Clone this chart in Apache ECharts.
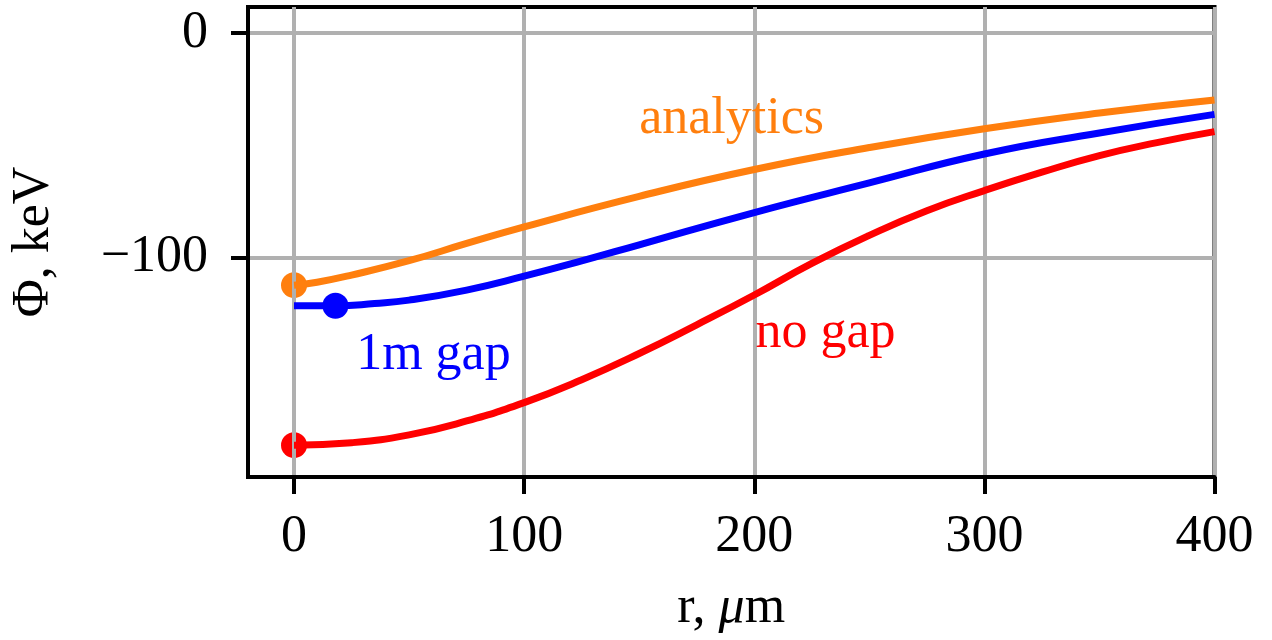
<!DOCTYPE html>
<html>
<head>
<meta charset="utf-8">
<script src="https://cdn.jsdelivr.net/npm/echarts@6/dist/echarts.min.js"></script>
<style>
  html, body { margin: 0; padding: 0; background: #fff; }
  #chart { width: 1272px; height: 640px; }
</style>
</head>
<body>
<div id="chart"></div>
<script>
// Radius r (µm) and potential Φ (keV) for the three profiles
const rAnalytics = [0, 10, 25, 50, 75, 100, 150, 200, 250, 300, 350, 400];
const phiAnalytics = [-112.4, -111.1, -107.9, -101.5, -93.8, -86.4, -72.8, -60.8, -51, -42.6, -35.6, -29.8];

const rGap = [0, 18, 35, 50, 75, 100, 125, 150, 200, 250, 300, 350, 400];
const phiGap = [-121.6, -121.6, -120.6, -119.1, -114.6, -108.4, -101.6, -94.4, -80, -66.8, -53.9, -44.5, -36.2];

const rNoGap = [0, 25, 50, 75, 100, 125, 150, 175, 200, 225, 250, 275, 300, 325, 350, 375, 400];
const phiNoGap = [-183.8, -182.7, -179.2, -173, -164.8, -154.6, -142.9, -130.1, -116.8, -102.7, -90.2, -79.2, -70.2, -62, -54.6, -48.8, -43.9];

// Tick values on both axes
const xTicks = [0, 100, 200, 300, 400];
const yTicks = [-100, 0];

// Curve names written next to each curve: [text, r, Φ at baseline]
const curveNotes = [
  ['analytics', 150, -44.6],
  ['1m gap', 27, -150.2],
  ['no gap', 200.5, -140]
];

const colors = { analytics: '#ff7f0e', gap: '#0000ff', noGap: '#ff0000' };
const FONT = '"Liberation Serif", "DejaVu Serif", serif';
const FS = 52;

const zip = (xs, ys) => xs.map((x, i) => [x, ys[i]]);

const chart = echarts.init(document.getElementById('chart'), null, { renderer: 'canvas' });

const lineSeries = (name, data, color) => ({
  name, type: 'line', data, smooth: 0.5,
  showSymbol: false, symbol: 'none', z: 3,
  lineStyle: { color, width: 7, cap: 'butt', join: 'round' },
  animation: false
});

const dotSeries = (point, color) => ({
  type: 'scatter', data: [point], symbol: 'circle', symbolSize: 26,
  itemStyle: { color, opacity: 1 }, z: -1, silent: true, animation: false
});

const axisCommon = {
  axisLine: { show: true, onZero: false, lineStyle: { color: '#000', width: 4 } },
  axisTick: { show: true, inside: false, length: 17, lineStyle: { color: '#000', width: 4 } },
  splitLine: { show: true, lineStyle: { color: '#b0b0b0', width: 4 } },
  nameTextStyle: { fontFamily: FONT, fontSize: FS, color: '#000' }
};

chart.setOption({
  backgroundColor: '#fff',
  animation: false,
  grid: {
    left: 246.7, right: 57.5, top: 7, bottom: 163,
    show: true, borderColor: '#000', borderWidth: 4, backgroundColor: 'transparent'
  },
  xAxis: Object.assign({}, axisCommon, {
    type: 'value', min: -20, max: 400,
    axisTick: Object.assign({}, axisCommon.axisTick, { customValues: xTicks }),
    axisLabel: { customValues: xTicks, margin: 34, fontFamily: FONT, fontSize: FS, color: '#000' },
    name: '{n|r, }{i|μ}{n|m}', nameLocation: 'middle', nameGap: 105,
    nameTextStyle: {
      fontFamily: FONT, fontSize: FS, color: '#000',
      rich: {
        n: { fontFamily: FONT, fontSize: FS, color: '#000' },
        i: { fontFamily: FONT, fontSize: FS, color: '#000', fontStyle: 'italic' }
      }
    }
  }),
  yAxis: Object.assign({}, axisCommon, {
    type: 'value', min: -198, max: 11.7,
    axisTick: Object.assign({}, axisCommon.axisTick, { customValues: yTicks }),
    axisLabel: {
      customValues: yTicks, margin: 40, fontFamily: FONT, fontSize: FS, color: '#000',
      formatter: v => (v < 0 ? '\u2212' + Math.abs(v) : String(v))
    },
    name: 'Φ, keV', nameLocation: 'middle', nameGap: 188, nameRotate: 90
  }),
  series: [
    dotSeries([rAnalytics[0], phiAnalytics[0]], colors.analytics),
    dotSeries([rGap[1], phiGap[1]], colors.gap),
    dotSeries([rNoGap[0], phiNoGap[0]], colors.noGap),
    lineSeries('analytics', zip(rAnalytics, phiAnalytics), colors.analytics),
    lineSeries('1m gap', zip(rGap, phiGap), colors.gap),
    lineSeries('no gap', zip(rNoGap, phiNoGap), colors.noGap)
  ]
});

// Curve names, anchored at their data coordinates (left edge, text baseline)
const noteColors = [colors.analytics, colors.gap, colors.noGap];
chart.setOption({
  graphic: curveNotes.map((note, i) => {
    const p = chart.convertToPixel({ gridIndex: 0 }, [note[1], note[2]]);
    return {
      type: 'text', x: p[0], y: p[1] - 0.27 * FS, z: 10, silent: true,
      style: {
        text: note[0], fill: noteColors[i], fontFamily: FONT, fontSize: FS,
        textAlign: 'left', textVerticalAlign: 'middle', verticalAlign: 'middle'
      }
    };
  })
});
</script>
</body>
</html>
